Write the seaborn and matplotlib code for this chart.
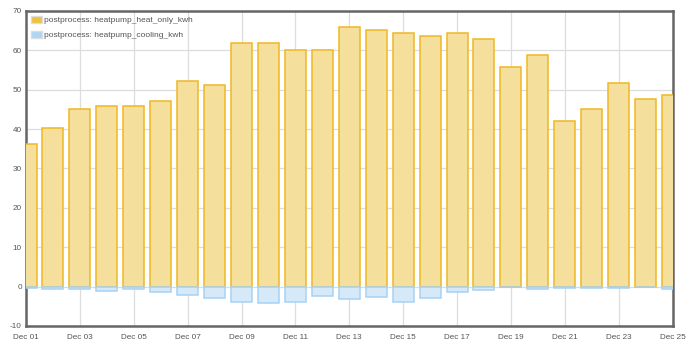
import matplotlib
matplotlib.use("Agg")
import matplotlib.pyplot as plt
import pandas as pd
import seaborn as sns

days = [f"Dec {d:02d}" for d in range(1, 26)]
heat_only_kwh = [36.1, 40.2, 45.1, 45.9, 45.8, 47.1, 52.2, 51.1, 61.9, 61.8,
                 60.2, 60.0, 65.9, 65.1, 64.4, 63.6, 64.4, 63.0, 55.9, 58.8,
                 42.0, 45.2, 51.6, 47.6, 48.7]
cooling_kwh = [-0.3, -0.5, -0.7, -1.0, -0.6, -1.4, -2.2, -2.8, -4.0, -4.2,
               -3.8, -2.5, -3.1, -2.7, -3.8, -2.9, -1.3, -0.8, -0.2, -0.7,
               -0.4, -0.4, -0.4, -0.15, -0.5]
series_names = ["postprocess: heatpump_heat_only_kwh",
                "postprocess: heatpump_cooling_kwh"]
y_ticks = list(range(-10, 71, 10))

fills = ["#f5df9c", "#d5e9f9"]
edges = ["#f0b722", "#a6d2f4"]
legend_fills = ["#efc23a", "#acd5f6"]

df = pd.DataFrame({
    "day": days * 2,
    "kwh": heat_only_kwh + cooling_kwh,
    "series": [series_names[0]] * len(days) + [series_names[1]] * len(days),
})

sns.set_theme(style="white")
plt.rcParams["font.family"] = ["Liberation Sans", "DejaVu Sans"]

fig = plt.figure(figsize=(6.9, 3.5), dpi=100)
ax = fig.add_axes([0.0377, 0.0686, 0.937, 0.9])

sns.barplot(data=df, x="day", y="kwh", hue="series", hue_order=series_names,
            palette=fills, saturation=1, dodge=False, width=0.78, ax=ax,
            errorbar=None, zorder=3)

for cont, ec in zip(ax.containers, edges):
    for bar in cont:
        bar.set_edgecolor(ec)
        bar.set_linewidth(1.1)

ax.set_xlim(0, len(days) - 1)
ax.set_ylim(-10, 70)
ax.set_yticks(y_ticks)
ax.set_yticklabels([str(v) for v in y_ticks])
ax.set_xticks(range(0, len(days), 2))
ax.set_xticklabels(days[::2])
ax.set_xlabel("")
ax.set_ylabel("")

ax.grid(True, color="#dddddd", linewidth=0.9, zorder=0)
ax.set_axisbelow(True)
ax.tick_params(axis="both", length=0, labelsize=5.9, colors="#555555")
ax.tick_params(axis="x", pad=6)
ax.tick_params(axis="y", pad=3)

for s in ax.spines.values():
    s.set_color("#666666")
    s.set_linewidth(1.8)
    s.set_visible(True)

handles, labels = ax.get_legend_handles_labels()
for h, fc in zip(handles, legend_fills):
    h.set_facecolor(fc)
    h.set_edgecolor("#dddddd")
    h.set_linewidth(1.0)
leg = ax.legend(handles, labels, loc="upper left", frameon=False, fontsize=6.0,
                handlelength=1.3, handleheight=0.9, handletextpad=0.3,
                labelspacing=0.8, borderaxespad=0.3, borderpad=0.3,
                labelcolor="#555555")

fig.savefig("out.png", dpi=100, facecolor="white")
